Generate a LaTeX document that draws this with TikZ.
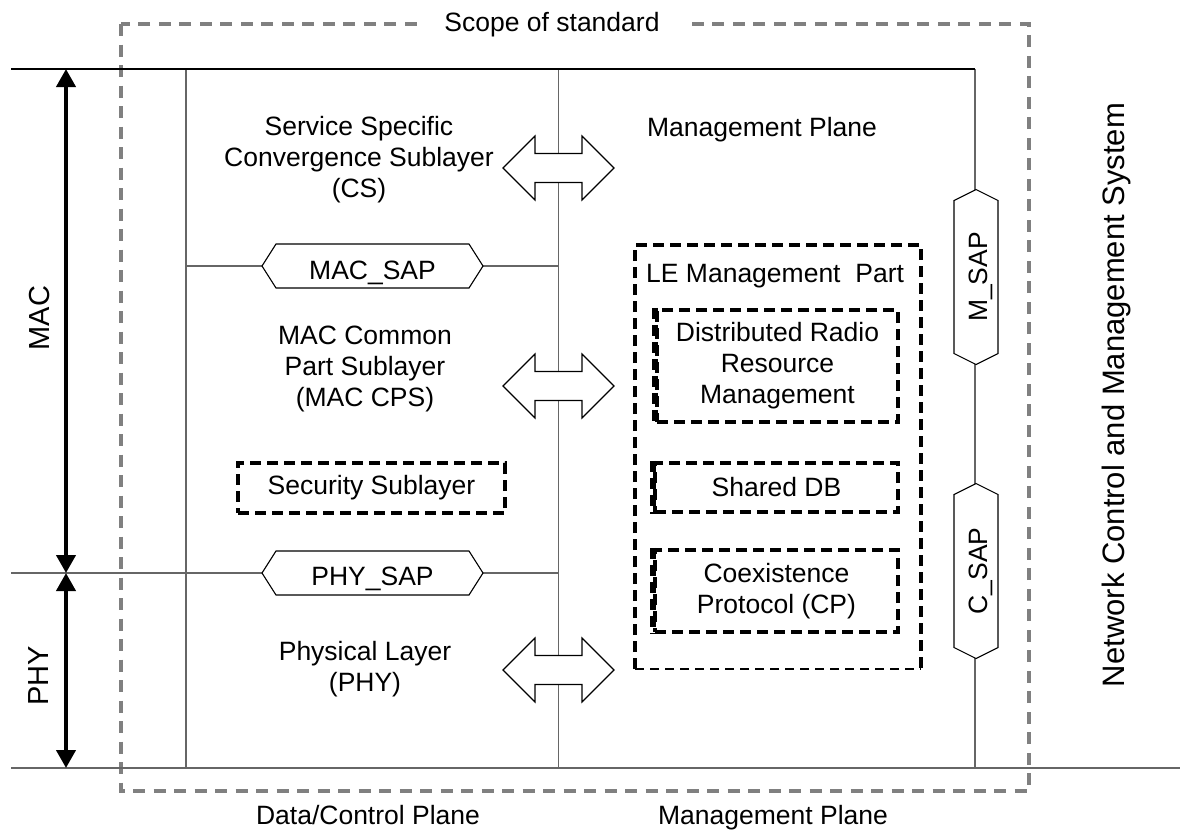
\documentclass[tikz,border=0pt]{standalone}
\usepackage{fontspec}
\setmainfont{Liberation Sans}
\usetikzlibrary{arrows.meta}
\begin{document}
\begin{tikzpicture}[x=1pt,y=-1pt,
  gline/.style={draw=black!60, line width=1.3pt},
  bline/.style={draw=black, line width=1.3pt},
  stdbox/.style={draw=black!50, line width=4pt, dash pattern=on 12pt off 8.5pt},
  lethick/.style={draw=black, line width=4pt, dash pattern=on 11pt off 6pt},
  lethin/.style={draw=black, line width=1.4pt, dash pattern=on 9pt off 6pt},
  dbox/.style={draw=black, line width=4.5pt, dash pattern=on 11pt off 6pt, inner sep=0pt, font=\fontsize{26.5}{31}\selectfont, align=center},
  dimarrow/.style={line width=4pt, {Triangle[length=18pt,width=19pt]}-{Triangle[length=18pt,width=19pt]}},
  lbl/.style={inner sep=0pt, font=\fontsize{26.5}{31}\selectfont, text height=19pt, text depth=0pt},
  mlbl/.style={inner sep=0pt, font=\fontsize{26.5}{31}\selectfont, align=center},
  biglbl/.style={inner sep=0pt, font=\fontsize{29}{31}\selectfont, rotate=90},
  dblarrow/.pic={\draw[line width=1.1pt, fill=white] (-55.5,0) -- (-23.5,-32) -- (-23.5,-14.5) -- (23.5,-14.5) -- (23.5,-32) -- (55.5,0) -- (23.5,32) -- (23.5,14.5) -- (-23.5,14.5) -- (-23.5,32) -- cycle;},
  hexh/.pic={\draw[line width=1.1pt, fill=white] (-110.5,0) -- (-96.5,-22) -- (96.5,-22) -- (110.5,0) -- (96.5,22) -- (-96.5,22) -- cycle;},
  hexv/.pic={\draw[line width=1.1pt, fill=white] (0,-87.5) -- (22,-76.5) -- (22,76.5) -- (0,87.5) -- (-22,76.5) -- (-22,-76.5) -- cycle;}
]
\useasboundingbox (0,0) rectangle (1180,831);

% frame coordinates
\coordinate (tl) at (11,69);
\coordinate (tr) at (975,69);
\coordinate (bl) at (11,768);
\coordinate (br) at (1180,768);
\coordinate (v1t) at (186,69);
\coordinate (v1b) at (186,768);
\coordinate (v2t) at (558.5,69);
\coordinate (v2b) at (558.5,768);
\coordinate (v3b) at (975,768);
\coordinate (macL) at (186,266);
\coordinate (macR) at (558.5,266);
\coordinate (phyL) at (11,573);
\coordinate (phyR) at (558.5,573);

% scope of standard
\draw[stdbox] (121,24) rectangle (1029,791);
\node[lbl, fill=white, inner xsep=26pt, inner ysep=5pt] (scopelbl) at (552,22) {Scope of standard};

% structure lines
\draw[gline] (v1t) -- (v1b);
\draw[gline] (v2t) -- (v2b);
\draw[gline] (tr) -- (v3b);
\draw[gline] (bl) -- (br);
\draw[bline] (tl) -- (tr);
\draw[gline] (macL) -- (macR);
\draw[gline] (phyL) -- (phyR);

% MAC / PHY extents
\coordinate (macT) at (66,69);
\coordinate (macB) at (66,573);
\coordinate (phyB) at (66,768);
\draw[dimarrow] (macT) -- (macB);
\draw[dimarrow] (macB) -- (phyB);
\node[biglbl] (maclbl) at (40,318) {MAC};
\node[biglbl] (phylbl) at (39,676) {PHY};

% block arrows
\pic at (558.5,168) {dblarrow};
\pic at (558.5,386) {dblarrow};
\pic at (558.5,670) {dblarrow};

% SAPs
\pic at (372.5,266) {hexh};
\pic at (372.5,573) {hexh};
\pic at (976,277) {hexv};
\pic at (976,571) {hexv};
\node[lbl] (macsap) at (372.5,270) {MAC\_SAP};
\node[lbl] (physap) at (372.5,576) {PHY\_SAP};
\node[lbl, rotate=90] (msap) at (978,277) {M\_SAP};
\node[lbl, rotate=90] (csap) at (978,571) {C\_SAP};

% left plane texts
\node[mlbl] (cs) at (359,160) {Service Specific\\Convergence Sublayer\\(CS)};
\node[mlbl] (cps) at (365,369) {MAC Common\\Part Sublayer\\(MAC CPS)};
\node[mlbl] (phy) at (365,669) {Physical Layer\\(PHY)};
\node[dbox, minimum width=267pt, minimum height=50pt] (sec) at (371.5,488) {Security Sublayer};

% management plane
\node[lbl] (mplane) at (762,127) {Management Plane};
\draw[lethick] (635,669) -- (635,245) -- (921,245) -- (921,669);
\draw[lethin] (635,669) -- (921,669);
\node[lbl, anchor=west] (lemp) at (646,273) {LE Management~ Part};
\node[dbox, minimum width=241pt, minimum height=112pt] (drrm) at (777.5,366) {Distributed Radio\\Resource\\Management};
\node[dbox, minimum width=243pt, minimum height=49pt] (sdb) at (776.5,487.5) {Shared DB};
\node[dbox, minimum width=243pt, minimum height=82pt] (coex) at (776.5,591) {Coexistence\\Protocol (CP)};
\draw[line width=6.5pt, dash pattern=on 11pt off 6pt] (drrm.north west) -- (drrm.south west);
\draw[line width=6.5pt, dash pattern=on 11pt off 6pt] (sdb.north west) -- (sdb.south west);
\draw[line width=6.5pt, dash pattern=on 11pt off 6pt] (coex.north west) -- (coex.south west);

% bottom labels
\node[lbl] (dcp) at (368,815) {Data/Control Plane};
\node[lbl] (mpb) at (773,815) {Management Plane};

% external system
\node[inner sep=0pt, font=\fontsize{31}{34}\selectfont, rotate=90] (ncms) at (1116,395) {Network Control and Management System};
\end{tikzpicture}
\end{document}
